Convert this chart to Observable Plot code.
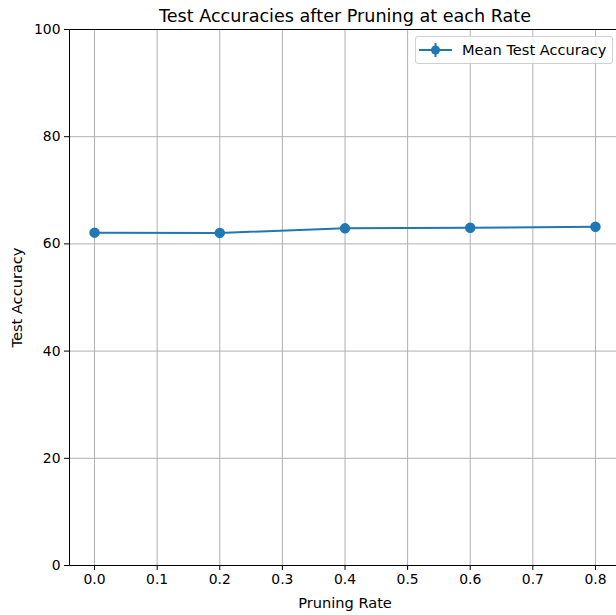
<!DOCTYPE html>
<html><head><meta charset="utf-8">
<script src="https://cdn.jsdelivr.net/npm/d3@7"></script>
<script src="https://cdn.jsdelivr.net/npm/@observablehq/plot@0.6"></script>
<style>
body{margin:0;background:#fff;}
#wrap{position:relative;width:616px;height:615px;overflow:hidden;font-family:"DejaVu Sans",sans-serif;}
#legend{position:absolute;left:415px;top:36px;width:196px;height:26px;border:1px solid #d0d0d0;border-radius:3px;background:rgba(255,255,255,0.8);box-sizing:content-box;}
#legend svg{position:absolute;left:0;top:0;}
#legend span{position:absolute;left:46px;top:3.5px;font-size:14.6px;color:#000;white-space:nowrap;}
</style></head>
<body><div id="wrap"></div>
<script>
const rates = [0.0, 0.2, 0.4, 0.6, 0.8];
const accuracies = [62.1, 62.05, 62.9, 63.0, 63.2];
const xTicks = [0, 0.1, 0.2, 0.3, 0.4, 0.5, 0.6, 0.7, 0.8];
const yTicks = [0, 20, 40, 60, 80, 100];
const title = "Test Accuracies after Pruning at each Rate";
const xLabel = "Pruning Rate";
const yLabel = "Test Accuracy";
const seriesName = "Mean Test Accuracy";
const color = "#1f77b4";

const data = rates.map((r, i) => ({rate: r, acc: accuracies[i]}));

const plot = Plot.plot({
  width: 616, height: 615,
  marginLeft: 69, marginTop: 29, marginBottom: 50, marginRight: -4,
  style: {fontFamily: "DejaVu Sans", fontSize: "13.9px", background: "#fff", color: "#000", overflow: "visible"},
  x: {domain: [-0.04, 0.84]},
  y: {domain: [0, 100]},
  marks: [
    Plot.gridX(xTicks, {stroke: "#b0b0b0", strokeOpacity: 1, strokeWidth: 1}),
    Plot.gridY(yTicks, {stroke: "#b0b0b0", strokeOpacity: 1, strokeWidth: 1}),
    Plot.frame({stroke: "#000", strokeWidth: 1}),
    Plot.axisX(xTicks, {tickFormat: d3.format(".1f"), tickSize: 5, tickPadding: 4, label: null}),
    Plot.axisY(yTicks, {tickSize: 5, tickPadding: 4, label: null}),
    Plot.text([xLabel], {frameAnchor: "bottom", dy: 42, fontSize: 14.6, fill: "#000"}),
    Plot.text([yLabel], {frameAnchor: "left", textAnchor: "middle", dx: -52, rotate: -90, fontSize: 14.6, fill: "#000"}),
    Plot.line(data, {x: "rate", y: "acc", stroke: color, strokeWidth: 2}),
    Plot.dot(data, {x: "rate", y: "acc", fill: color, stroke: color, r: 4.5}),
    Plot.text([title], {frameAnchor: "top", dy: -20, fontSize: 17.6, fill: "#000"})
  ]
});
const wrap = document.getElementById("wrap");
wrap.appendChild(plot);
const legend = document.createElement("div");
legend.id = "legend";
legend.innerHTML = `<svg width="46" height="26"><line x1="3" x2="36" y1="13" y2="13" stroke="${color}" stroke-width="2"/><line x1="19.5" x2="19.5" y1="6" y2="20" stroke="${color}" stroke-width="2"/><circle cx="19.5" cy="13" r="4.5" fill="${color}"/></svg><span>${seriesName}</span>`;
wrap.appendChild(legend);
</script>
</body></html>
